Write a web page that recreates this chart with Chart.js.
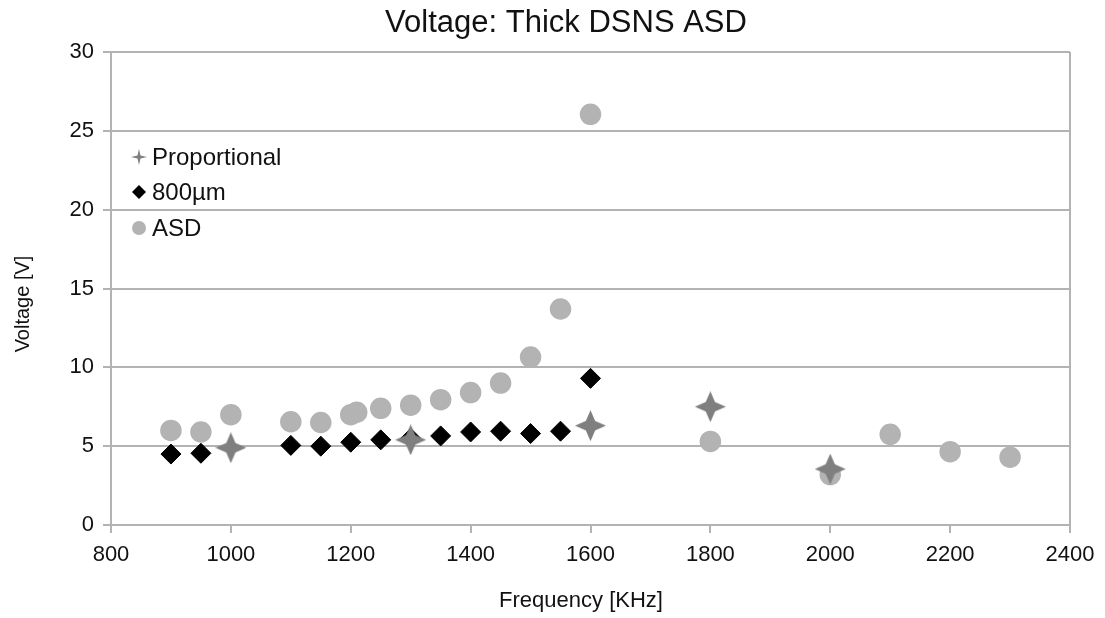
<!DOCTYPE html>
<html>
<head>
<meta charset="utf-8">
<script src="https://cdn.jsdelivr.net/npm/chart.js@4"></script>
<style>
  html, body { margin:0; padding:0; background:#fff; }
  #wrap { width:1105px; height:618px; position:relative; }
</style>
</head>
<body>
<div id="wrap"><canvas id="chart" width="1105" height="618"></canvas></div>
<script>
// values
const TITLE = 'Voltage: Thick DSNS ASD';
const X_TITLE = 'Frequency [KHz]';
const Y_TITLE = 'Voltage [V]';

const propFreq = [1000, 1300, 1600, 1800, 2000];
const propVolt = [4.9, 5.4, 6.3, 7.5, 3.55];

const umFreq = [900, 950, 1100, 1150, 1200, 1250, 1300, 1350, 1400, 1450, 1500, 1550, 1600];
const umVolt = [4.5, 4.55, 5.05, 5.0, 5.25, 5.4, 5.5, 5.65, 5.9, 5.95, 5.8, 5.95, 9.3];

const asdFreq = [900, 950, 1000, 1100, 1150, 1200, 1210, 1250, 1300, 1350, 1400, 1450, 1500, 1550, 1600, 1800, 2000, 2100, 2200, 2300];
const asdVolt = [6.0, 5.9, 7.0, 6.55, 6.5, 7.0, 7.15, 7.4, 7.6, 7.95, 8.4, 9.0, 10.65, 13.7, 26.05, 5.3, 3.2, 5.75, 4.65, 4.3];

const FONT = "'Liberation Sans', Arial, sans-serif";
const GRID = '#b3b3b3';
const STAR_C = '#7f7f7f';
const ASD_C = '#b3b3b3';

function pts(xs, ys){ return xs.map((x,i)=>({x:x, y:ys[i]})); }

// 4-point star used for the Proportional series
function starPath(ctx, cx, cy, r, w){
  ctx.beginPath();
  ctx.moveTo(cx, cy - r);
  ctx.lineTo(cx + w, cy - w);
  ctx.lineTo(cx + r, cy);
  ctx.lineTo(cx + w, cy + w);
  ctx.lineTo(cx, cy + r);
  ctx.lineTo(cx - w, cy + w);
  ctx.lineTo(cx - r, cy);
  ctx.lineTo(cx - w, cy - w);
  ctx.closePath();
}
function makeStar(size){
  const c = document.createElement('canvas');
  c.width = size; c.height = size;
  const g = c.getContext('2d');
  g.fillStyle = STAR_C;
  starPath(g, size/2, size/2, size/2, size*0.15);
  g.fill();
  return c;
}
const STAR = makeStar(31);

// title, axis titles, right frame line and in-plot legend
const decor = {
  id: 'decor',
  afterDraw(chart){
    const {ctx, chartArea:a} = chart;
    ctx.save();
    ctx.strokeStyle = GRID; ctx.lineWidth = 2;
    ctx.beginPath();
    ctx.moveTo(a.right, a.top); ctx.lineTo(a.right, a.bottom);
    ctx.stroke();

    ctx.fillStyle = '#111';
    ctx.font = '31px ' + FONT;
    ctx.textAlign = 'center'; ctx.textBaseline = 'middle';
    ctx.fillText(TITLE, 566, 23);

    ctx.font = '22px ' + FONT;
    ctx.fillText(X_TITLE, 581, 601);

    ctx.save();
    ctx.translate(23, 304);
    ctx.rotate(-Math.PI/2);
    ctx.font = '20px ' + FONT;
    ctx.fillText(Y_TITLE, 0, 0);
    ctx.restore();

    const items = [
      {label:'Proportional', y:157, kind:'star'},
      {label:'800\u00b5m', y:192, kind:'diamond'},
      {label:'ASD', y:228, kind:'circle'}
    ];
    ctx.font = '24px ' + FONT;
    ctx.textAlign = 'left';
    items.forEach(it=>{
      const mx = 139;
      if(it.kind==='star'){
        ctx.fillStyle = STAR_C; starPath(ctx, mx, it.y, 8, 1.5); ctx.fill();
      } else if(it.kind==='diamond'){
        ctx.fillStyle = '#000';
        ctx.beginPath(); ctx.moveTo(mx, it.y-7); ctx.lineTo(mx+7, it.y); ctx.lineTo(mx, it.y+7); ctx.lineTo(mx-7, it.y); ctx.closePath(); ctx.fill();
      } else {
        ctx.fillStyle = ASD_C;
        ctx.beginPath(); ctx.arc(mx, it.y, 7, 0, Math.PI*2); ctx.fill();
      }
      ctx.fillStyle = '#111';
      ctx.fillText(it.label, 152, it.y + 1);
    });
    ctx.restore();
  }
};

new Chart(document.getElementById('chart'), {
  type: 'scatter',
  data: {
    datasets: [
      { label:'Proportional', data: pts(propFreq, propVolt), pointStyle: STAR, pointRadius: 15, pointHoverRadius: 15 },
      { label:'800\u00b5m', data: pts(umFreq, umVolt), pointStyle:'rectRot', pointRadius: 10, pointHoverRadius: 10,
        backgroundColor:'#000', borderColor:'#000', borderWidth:1 },
      { label:'ASD', data: pts(asdFreq, asdVolt), pointStyle:'circle', pointRadius: 10, pointHoverRadius: 10,
        backgroundColor: ASD_C, borderColor: ASD_C, borderWidth:1.5 }
    ]
  },
  options: {
    responsive: false,
    animation: false,
    layout: { padding: { top: 52, right: 35, left: 0, bottom: 0 } },
    plugins: { legend: { display:false }, title: { display:false }, tooltip: { enabled:false } },
    scales: {
      x: {
        type:'linear', min:800, max:2400,
        ticks: { stepSize:200, color:'#111', font:{family:FONT, size:22}, padding:9, maxRotation:0,
                 callback: v => String(v) },
        grid: { drawOnChartArea:false, drawTicks:true, tickLength:8, color:GRID, lineWidth:2 },
        border: { color:GRID, width:2 },
        afterFit(s){ s.height = 93; }
      },
      y: {
        min:0, max:30,
        ticks: { stepSize:5, color:'#111', font:{family:FONT, size:22}, padding:9, callback: v => String(v) },
        grid: { color:GRID, lineWidth:2, tickLength:8 },
        border: { color:GRID, width:2 },
        afterFit(s){ s.width = 111; }
      }
    }
  },
  plugins: [decor]
});
</script>
</body>
</html>
